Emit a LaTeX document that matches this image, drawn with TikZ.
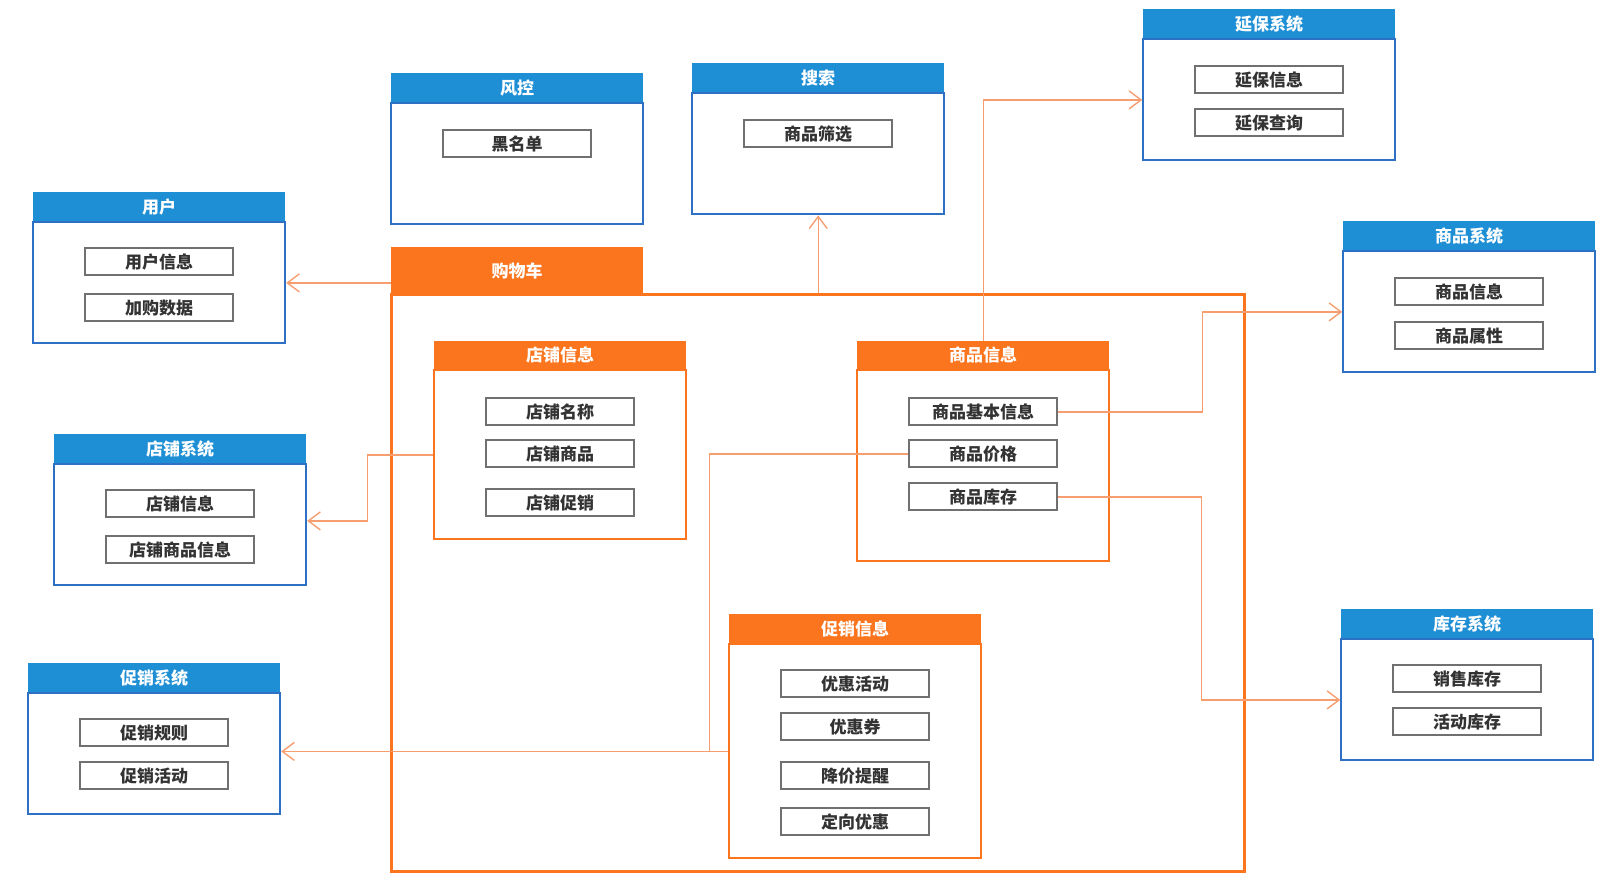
\documentclass[tikz,border=0pt]{standalone}
\usepackage{fontspec}
\setmainfont{Noto Sans CJK SC}
\usepackage{tikz}
\usetikzlibrary{arrows.meta, positioning, calc}
\definecolor{sysblue}{RGB}{30,143,213}
\definecolor{sysedge}{RGB}{45,112,196}
\definecolor{cartorange}{RGB}{250,117,30}
\definecolor{linkorange}{RGB}{246,158,112}
\definecolor{itemedge}{RGB}{112,112,112}
\tikzset{
    syshead/.style={rectangle, fill=sysblue, text=white, font=\fontsize{17}{17}\selectfont\bfseries, minimum width=252pt, minimum height=29pt, inner sep=0pt, anchor=north west},
    sysbody/.style={rectangle, draw=sysedge, line width=2pt, fill=white, minimum width=252pt, minimum height=121pt, inner sep=0pt},
    parthead/.style={syshead, fill=cartorange, minimum height=28pt},
    partbody/.style={sysbody, draw=cartorange},
    item/.style={rectangle, draw=itemedge, line width=2pt, fill=white, minimum width=148pt, minimum height=27pt, inner sep=0pt, font=\fontsize{17}{17}\selectfont\bfseries, text=black!80},
    link/.style={draw=linkorange, line width=1.4pt},
    arrow/.style={link, -{Straight Barb[length=12pt, width=18pt]}}
}
\begin{document}
\begin{tikzpicture}[x=1pt, y=-1pt, node distance=14pt]
    \useasboundingbox (0,0) rectangle (1621,886);

    \node[parthead, minimum height=47pt] (carthead) at (391,247) {购物车};
    \node[rectangle, draw=cartorange, line width=2.5pt, minimum width=853pt, minimum height=577pt, anchor=north west] (cart) at (390,293) {};

    \node[syshead] (userhead) at (33,192) {用户};
    \node[sysbody, below=0pt of userhead] (userbody) {};
    \node[item, below=26pt of userbody.north] (userinfo) {用户信息};
    \node[item, below=17pt of userinfo] (usercart) {加购数据};

    \node[syshead] (shopsyshead) at (54,434) {店铺系统};
    \node[sysbody, below=0pt of shopsyshead] (shopsysbody) {};
    \node[item, below=26pt of shopsysbody.north] (shopsysinfo) {店铺信息};
    \node[item, below=17pt of shopsysinfo] (shopsysgoods) {店铺商品信息};

    \node[syshead] (riskhead) at (391,73) {风控};
    \node[sysbody, below=0pt of riskhead] (riskbody) {};
    \node[item, below=27pt of riskbody.north] (blacklist) {黑名单};

    \node[syshead] (searchhead) at (692,63) {搜索};
    \node[sysbody, below=0pt of searchhead] (searchbody) {};
    \node[item, below=27pt of searchbody.north] (goodsfilter) {商品筛选};

    \node[syshead] (warrhead) at (1143,9) {延保系统};
    \node[sysbody, below=0pt of warrhead] (warrbody) {};
    \node[item, below=27pt of warrbody.north] (warrinfo) {延保信息};
    \node[item, below=14pt of warrinfo] (warrquery) {延保查询};

    \node[syshead] (goodssyshead) at (1343,221) {商品系统};
    \node[sysbody, below=0pt of goodssyshead] (goodssysbody) {};
    \node[item, below=27pt of goodssysbody.north] (goodssysinfo) {商品信息};
    \node[item, below=15pt of goodssysinfo] (goodssysattr) {商品属性};

    \node[syshead] (stockhead) at (1341,609) {库存系统};
    \node[sysbody, below=0pt of stockhead] (stockbody) {};
    \node[item, below=26pt of stockbody.north] (salestock) {销售库存};
    \node[item, below=14pt of salestock] (actstock) {活动库存};

    \node[syshead] (promosyshead) at (28,663) {促销系统};
    \node[sysbody, below=0pt of promosyshead] (promosysbody) {};
    \node[item, below=26pt of promosysbody.north] (promorule) {促销规则};
    \node[item, below=14pt of promorule] (promoact) {促销活动};

    \node[parthead] (shophead) at (434,341) {店铺信息};
    \node[partbody, below=0pt of shophead, minimum height=169pt] (shopbody) {};
    \node[item, below=28pt of shopbody.north] (shopname) {店铺名称};
    \node[item, below=13pt of shopname] (shopgoods) {店铺商品};
    \node[item, below=20pt of shopgoods] (shoppromo) {店铺促销};

    \node[parthead] (goodshead) at (857,341) {商品信息};
    \node[partbody, below=0pt of goodshead, minimum height=191pt] (goodsbody) {};
    \node[item, below=28pt of goodsbody.north] (goodsbasic) {商品基本信息};
    \node[item, below=13pt of goodsbasic] (goodsprice) {商品价格};
    \node[item, below=14pt of goodsprice] (goodsstock) {商品库存};

    \node[parthead, minimum height=29pt] (promohead) at (729,614) {促销信息};
    \node[partbody, below=0pt of promohead, minimum height=214pt] (promobody) {};
    \node[item, below=26pt of promobody.north] (discount) {优惠活动};
    \node[item, below=14pt of discount] (coupon) {优惠券};
    \node[item, below=20pt of coupon] (pricedrop) {降价提醒};
    \node[item, below=17pt of pricedrop] (targeted) {定向优惠};

    \coordinate (promojoin) at ($(promobody.west)+(-19,0)$);
    \draw[arrow] (carthead.west |- userbody.east) -- (userbody.east);
    \draw[arrow] (shopbody.west) -- ++(-66,0) |- ($(shopsysbody.east)+(0,-4)$);
    \draw[arrow] (cart.north -| searchbody.south) -- (searchbody.south);
    \draw[arrow] (goodshead.north) |- (warrbody.west);
    \draw[arrow] (goodsbasic.east) -- ++(144,0) |- (goodssysbody.west);
    \draw[arrow] (goodsstock.east) -- ++(143,0) |- (stockbody.west);
    \draw[link] (goodsprice.west) -| (promojoin);
    \draw[arrow] (promobody.west) -- (promobody.west -| promosysbody.east);
\end{tikzpicture}
\end{document}
